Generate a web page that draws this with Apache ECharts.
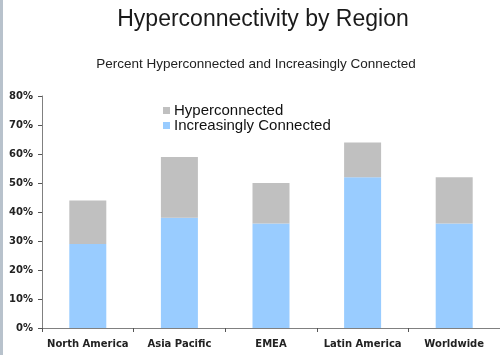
<!DOCTYPE html>
<html><head><meta charset="utf-8">
<script src="https://cdn.jsdelivr.net/npm/echarts@6/dist/echarts.min.js"></script>
<style>html,body{margin:0;padding:0;background:#fff}#c{width:500px;height:355px}</style>
</head><body><div id="c"></div>
<script>
const categories = ["North America", "Asia Pacific", "EMEA", "Latin America", "Worldwide"];
const increasinglyConnected = [29, 38, 36, 52, 36];
const hyperconnected = [15, 21, 14, 12, 16];
const yTicks = [0, 10, 20, 30, 40, 50, 60, 70, 80];

const chart = echarts.init(document.getElementById('c'), null, {renderer: 'canvas'});
const font = '"Liberation Sans", Arial, sans-serif';
const axFont = '"DejaVu Sans", Verdana, sans-serif';
chart.setOption({
  animation: false,
  title: [
    {text: 'Hyperconnectivity by Region', left: 258, textAlign: 'center', top: 3,
     textStyle: {fontFamily: font, fontSize: 23, fontWeight: 'normal', color: '#1a1a1a'}},
    {text: 'Percent Hyperconnected and Increasingly Connected', left: 251, textAlign: 'center', top: 52,
     textStyle: {fontFamily: font, fontSize: 13.5, fontWeight: 'normal', color: '#222'}}
  ],
  legend: {
    orient: 'vertical', left: 158, top: 98, itemWidth: 7, itemHeight: 7, itemGap: 0,
    icon: 'rect',
    data: ['Hyperconnected', 'Increasingly Connected'],
    textStyle: {fontFamily: font, fontSize: 15, color: '#111', padding: [0, 0, 0, -1]}
  },
  graphic: [{type: 'rect', left: 0, top: 0, shape: {width: 3, height: 355}, style: {fill: '#b8c2cc'}}],
  grid: {left: 42, top: 96, width: 465, height: 232, containLabel: false},
  xAxis: {
    type: 'category', data: categories,
    axisLine: {lineStyle: {color: '#808080', width: 1}},
    axisTick: {show: true, length: 4, inside: false, lineStyle: {color: '#555'}},
    axisLabel: {interval: 0, fontFamily: axFont, fontSize: 10, fontWeight: 'bold', color: '#222', margin: 11}
  },
  yAxis: {
    type: 'value', min: 0, max: 80, interval: 10,
    axisLine: {show: true, lineStyle: {color: '#808080', width: 1}},
    axisTick: {show: true, length: 4, lineStyle: {color: '#555'}},
    splitLine: {show: false},
    axisLabel: {fontFamily: axFont, fontSize: 10, fontWeight: 'bold', color: '#222', margin: 9,
      formatter: v => yTicks.includes(v) ? v + '%' : ''}
  },
  series: [
    {name: 'Increasingly Connected', type: 'bar', stack: 'a', data: increasinglyConnected,
     barWidth: 37, itemStyle: {color: '#99CCFF'}},
    {name: 'Hyperconnected', type: 'bar', stack: 'a', data: hyperconnected,
     barWidth: 37, itemStyle: {color: '#C0C0C0'}}
  ]
});
</script></body></html>
